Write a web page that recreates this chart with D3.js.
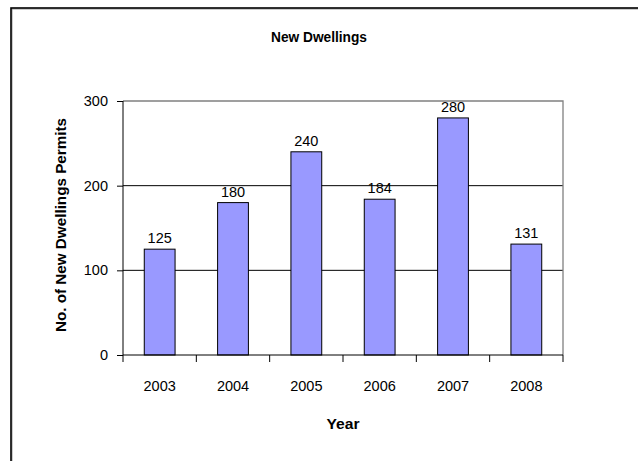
<!DOCTYPE html>
<html><head><meta charset="utf-8">
<script src="https://cdn.jsdelivr.net/npm/d3@7"></script>
<style>body{margin:0;background:#fff}svg{display:block}</style>
</head><body>
<script>
const years = ["2003","2004","2005","2006","2007","2008"];
const permits = [125,180,240,184,280,131];
const yTicks = [0,100,200,300];
const title = "New Dwellings";
const xTitle = "Year";
const yTitle = "No. of New Dwellings Permits";

const W=638,H=461;
const svg=d3.select("body").append("svg").attr("width",W).attr("height",H);
const font="'Liberation Sans', Arial, sans-serif";
const tfont="'Liberation Sans', Arial, sans-serif";

// outer frame
svg.append("rect").attr("x",12).attr("y",9).attr("width",640).attr("height",470)
  .attr("fill","none").attr("stroke","#999").attr("stroke-width",1);
svg.append("rect").attr("x",11).attr("y",8).attr("width",640).attr("height",470)
  .attr("fill","none").attr("stroke","#000").attr("stroke-width",1.6);

const L=123,R=563,T=101,B=355;
const x=d3.scaleBand().domain(years).range([L,R]).paddingInner(0.58).paddingOuter(0.29);
const y=d3.scaleLinear().domain([0,300]).range([B,T]);

// gridlines
svg.append("g").selectAll("line").data(yTicks.filter(t=>t>0&&t<300)).join("line")
  .attr("x1",L).attr("x2",R).attr("y1",d=>y(d)).attr("y2",d=>y(d))
  .attr("stroke","#000").attr("stroke-width",1);
// plot border top/right grey
svg.append("path").attr("d",`M${L},${y(300)}H${R}V${B}`).attr("fill","none").attr("stroke","#808080").attr("stroke-width",1.3);

// bars
svg.append("g").selectAll("rect").data(years).join("rect")
  .attr("x",d=>x(d)).attr("width",x.bandwidth())
  .attr("y",(d,i)=>y(permits[i])).attr("height",(d,i)=>B-y(permits[i]))
  .attr("fill","#9999FF").attr("stroke","#000").attr("stroke-width",1);

// data labels
svg.append("g").selectAll("text").data(years).join("text")
  .attr("x",d=>x(d)+x.bandwidth()/2).attr("y",(d,i)=>y(permits[i])-6)
  .attr("text-anchor","middle").attr("font-family",font).style("font-size","14.5px")
  .text((d,i)=>permits[i]);

// axes
const yAxis=d3.axisLeft(y).tickValues(yTicks).tickSize(6).tickPadding(9);
const gy=svg.append("g").attr("transform",`translate(${L},0)`).call(yAxis);
gy.select(".domain").attr("stroke","#000").attr("d",`M0,${T}V${B}`);
gy.selectAll("text").attr("font-family",font).style("font-size","14.5px").attr("fill","#000");

const xAxis=d3.axisBottom(x).tickSize(0).tickPadding(24);
const gx=svg.append("g").attr("transform",`translate(0,${B})`).call(xAxis);
gx.select(".domain").attr("stroke","#000").attr("d",`M${L},0H${R}`);
gx.selectAll("text").attr("font-family",font).style("font-size","14.5px").attr("fill","#000").attr("dy","0").attr("y",36);
// category separator ticks
const edges=years.map(d=>x(d)-x.step()*x.paddingInner()/2).concat([R]);
edges[0]=L;
svg.append("g").selectAll("line").data(edges).join("line")
  .attr("x1",d=>d).attr("x2",d=>d).attr("y1",B).attr("y2",B+7).attr("stroke","#000");

// titles
svg.append("text").attr("x",319).attr("y",42).attr("text-anchor","middle")
  .attr("font-family",tfont).attr("font-weight","bold").style("font-size","14px")
  .attr("textLength",96).attr("lengthAdjust","spacingAndGlyphs").text(title);
svg.append("text").attr("x",343).attr("y",429).attr("text-anchor","middle")
  .attr("font-family",tfont).attr("font-weight","bold").style("font-size","14px")
  .attr("textLength",33).attr("lengthAdjust","spacingAndGlyphs").text(xTitle);
svg.append("text").attr("transform",`translate(66,225) rotate(-90)`).attr("text-anchor","middle")
  .attr("font-family",tfont).attr("font-weight","bold").style("font-size","14px")
  .attr("textLength",214).attr("lengthAdjust","spacingAndGlyphs").text(yTitle);
</script>
</body></html>
